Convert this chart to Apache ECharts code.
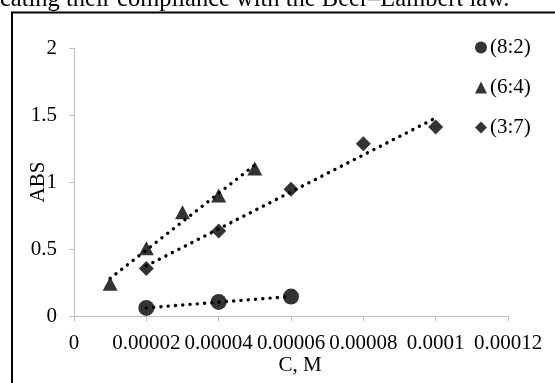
<!DOCTYPE html>
<html>
<head>
<meta charset="utf-8">
<script src="https://cdn.jsdelivr.net/npm/echarts@6/dist/echarts.min.js"></script>
<style>
  html, body { margin: 0; padding: 0; background: #fff; }
  #chart { width: 555px; height: 383px; }
</style>
</head>
<body>
<div id="chart"></div>
<script>
// Absorbance vs. concentration for three mixing ratios
const seriesNames = ['(8:2)', '(6:4)', '(3:7)'];
const seriesSymbols = ['circle', 'triangle', 'diamond'];

const conc82 = [0.00002, 0.00004, 0.00006];
const abs82 = [0.06, 0.105, 0.145];

const conc64 = [0.00001, 0.00002, 0.00003, 0.00004, 0.00005];
const abs64 = [0.24, 0.505, 0.775, 0.90, 1.10];

const conc37 = [0.00002, 0.00004, 0.00006, 0.00008, 0.0001];
const abs37 = [0.355, 0.635, 0.945, 1.285, 1.41];

const xTickLabels = ['0', '0.00002', '0.00004', '0.00006', '0.00008', '0.0001', '0.00012'];
const yTickLabels = ['0', '0.5', '1', '1.5', '2'];
const xStep = 0.00002;
const yStep = 0.5;

const caption = 'cating their compliance with the Beer\u2013Lambert law.';

// Least-squares linear trendline over the data's x range
function trendline(xs, ys) {
  const n = xs.length;
  const mx = xs.reduce((a, b) => a + b, 0) / n;
  const my = ys.reduce((a, b) => a + b, 0) / n;
  let sxy = 0, sxx = 0;
  for (let i = 0; i < n; i++) {
    sxy += (xs[i] - mx) * (ys[i] - my);
    sxx += (xs[i] - mx) * (xs[i] - mx);
  }
  const slope = sxy / sxx;
  const b = my - slope * mx;
  const x0 = Math.min(...xs), x1 = Math.max(...xs);
  return [[x0, slope * x0 + b], [x1, slope * x1 + b]];
}

const zip = (xs, ys) => xs.map((x, i) => [x, ys[i]]);
const groups = [[conc82, abs82], [conc64, abs64], [conc37, abs37]];

const font = 'Liberation Serif, Times New Roman, serif';
const axisGray = '#bfbfbf';
const labelSize = 21;

const series = [];
groups.forEach(([xs, ys], i) => {
  series.push({
    name: seriesNames[i] + ' trend',
    type: 'line',
    data: trendline(xs, ys),
    showSymbol: false,
    symbol: 'none',
    silent: true,
    z: 1,
    lineStyle: { color: '#000', width: 3.4, type: [0.1, 7.2], cap: 'round' }
  });
});
groups.forEach(([xs, ys], i) => {
  series.push({
    name: seriesNames[i],
    type: 'scatter',
    data: zip(xs, ys),
    symbol: seriesSymbols[i],
    symbolSize: i === 0 ? 16 : (i === 1 ? [15, 14] : 15),
    itemStyle: { color: '#000' },
    z: 3
  });
});

const chart = echarts.init(document.getElementById('chart'), null, { renderer: 'canvas' });
chart.setOption({
  animation: false,
  backgroundColor: '#fff',
  textStyle: { fontFamily: font },
  grid: { left: 74, right: 47, top: 48, bottom: 67, containLabel: false, outerBoundsMode: 'none' },
  legend: {
    orient: 'vertical',
    left: 470,
    top: 32,
    itemWidth: 12,
    itemHeight: 12,
    itemGap: 19,
    data: seriesNames.map((n, i) => ({ name: n, icon: seriesSymbols[i] })),
    textStyle: { fontFamily: font, fontSize: labelSize, color: '#000', padding: [0, 0, 0, -2] }
  },
  xAxis: {
    type: 'value',
    min: 0,
    max: 0.00012,
    interval: xStep,
    name: 'C, M',
    nameLocation: 'middle',
    nameGap: 39,
    nameMoveOverlap: false,
    nameTextStyle: { fontFamily: font, fontSize: labelSize, color: '#000', padding: [0, 0, 0, 18] },
    splitLine: { show: false },
    axisLine: { show: true, lineStyle: { color: axisGray, width: 1 } },
    axisTick: { show: true, length: 5, lineStyle: { color: axisGray, width: 1 } },
    axisLabel: {
      fontFamily: font, fontSize: labelSize, color: '#000', margin: 17,
      hideOverlap: false,
      formatter: v => xTickLabels[Math.round(v / xStep)]
    }
  },
  yAxis: {
    type: 'value',
    min: 0,
    max: 2,
    interval: yStep,
    name: 'ABS',
    nameLocation: 'middle',
    nameGap: 25,
    nameMoveOverlap: false,
    nameTextStyle: { fontFamily: font, fontSize: labelSize, color: '#000' },
    splitLine: { show: false },
    axisLine: { show: true, lineStyle: { color: axisGray, width: 1 } },
    axisTick: { show: true, length: 5, lineStyle: { color: axisGray, width: 1 } },
    axisLabel: {
      fontFamily: font, fontSize: labelSize, color: '#000', margin: 17,
      formatter: v => yTickLabels[Math.round(v / yStep)]
    }
  },
  graphic: [
    {
      type: 'rect',
      shape: { x: 12, y: 12.5, width: 700, height: 500 },
      style: { fill: 'none', stroke: '#000', lineWidth: 2 },
      silent: true,
      z: 0
    },
    {
      type: 'text',
      x: 0,
      y: -13,
      style: { text: caption, font: '24.5px ' + font, fill: '#000', verticalAlign: 'top' },
      silent: true
    }
  ],
  series: series
});
</script>
</body>
</html>
